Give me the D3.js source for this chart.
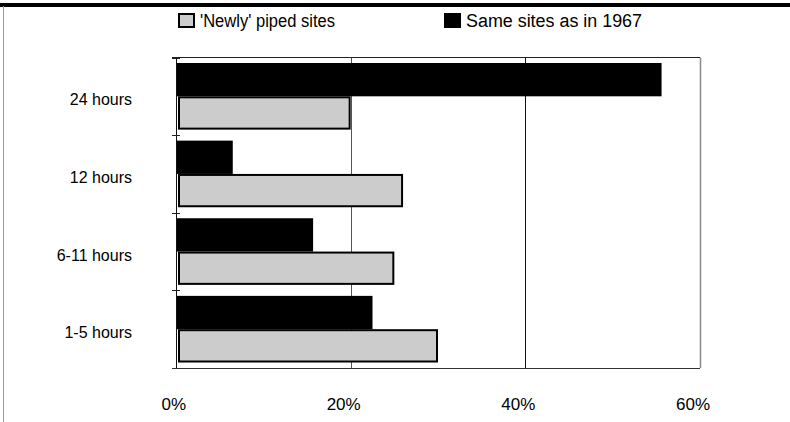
<!DOCTYPE html>
<html>
<head>
<meta charset="utf-8">
<script src="https://cdn.jsdelivr.net/npm/d3@7"></script>
<style>
  body { margin: 0; background: #fff; }
  svg { display: block; }
  .axis-label { font-family: "Liberation Sans", Arial, sans-serif; font-size: 16px; fill: #000; }
  .tick-label { font-family: "Liberation Sans", Arial, sans-serif; font-size: 17px; fill: #000; }
  .legend-label { font-family: "Liberation Sans Narrow", "Arial Narrow", "Liberation Sans", sans-serif; font-size: 18px; fill: #000; }
</style>
</head>
<body>
<div id="chart"></div>
<script>

// data
const categories = ['24 hours', '12 hours', '6-11 hours', '1-5 hours'];
const series = ['same', 'newly'];
const seriesNames = ["'Newly' piped sites", 'Same sites as in 1967'];
const sameSites = [55.6, 6.5, 15.7, 22.5];
const newlyPiped = [20, 26, 25, 30];
const xTicks = [0, 20, 40, 60];

const W = 790, H = 422;
const margin = {top: 57.5, right: 90, bottom: 54, left: 176};

const svg = d3.select('#chart').append('svg')
  .attr('width', W)
  .attr('height', H);

// frame round the whole picture
svg.append('rect')
  .attr('x', 0).attr('y', 3)
  .attr('width', W).attr('height', 4)
  .attr('fill', '#000');

svg.append('line')
  .attr('x1', 3.5).attr('x2', 3.5)
  .attr('y1', 6).attr('y2', H)
  .attr('stroke', '#999')
  .attr('stroke-width', 1);

const x = d3.scaleLinear()
  .domain([0, 60])
  .range([margin.left, W - margin.right]);

const y = d3.scaleBand()
  .domain(categories)
  .range([margin.top, H - margin.bottom]);

const inner = d3.scaleBand()
  .domain(series)
  .range([0, y.bandwidth()])
  .paddingInner(0)
  .paddingOuter(0.165);

// gridlines
svg.append('g')
  .selectAll('line')
  .data(xTicks.slice(1, -1))
  .join('line')
    .attr('x1', d => Math.round(x(d)) + 0.5)
    .attr('x2', d => Math.round(x(d)) + 0.5)
    .attr('y1', margin.top)
    .attr('y2', H - margin.bottom)
    .attr('stroke', (d, i) => i === 0 ? '#555' : '#111')
    .attr('stroke-width', 1);

// top and right border of the plot
svg.append('line')
  .attr('x1', margin.left - 4).attr('x2', x(60))
  .attr('y1', margin.top).attr('y2', margin.top)
  .attr('stroke', '#222');

svg.append('line')
  .attr('x1', Math.round(x(60)) + 0.5).attr('x2', Math.round(x(60)) + 0.5)
  .attr('y1', margin.top).attr('y2', H - margin.bottom)
  .attr('stroke', '#888')
  .attr('stroke-width', 1.5);

// bars
const rows = categories.map((c, i) => ({cat: c, same: sameSites[i], newly: newlyPiped[i]}));

const groups = svg.append('g')
  .selectAll('g')
  .data(rows)
  .join('g')
    .attr('transform', d => `translate(0,${y(d.cat)})`);

groups.append('rect')
  .attr('x', x(0))
  .attr('y', inner('same'))
  .attr('width', d => x(d.same) - x(0))
  .attr('height', inner.bandwidth())
  .attr('fill', '#000');

groups.append('rect')
  .attr('x', x(0) + 3)
  .attr('y', inner('newly') + 1)
  .attr('width', d => x(d.newly) - x(0) - 4)
  .attr('height', inner.bandwidth() - 2)
  .attr('fill', '#cccccc')
  .attr('stroke', '#000')
  .attr('stroke-width', 2);

// left axis with cross ticks
svg.append('line')
  .attr('x1', margin.left + 0.5).attr('x2', margin.left + 0.5)
  .attr('y1', margin.top).attr('y2', H - margin.bottom)
  .attr('stroke', '#111');

const bounds = categories.map(c => y(c)).concat([y.range()[1]]);
svg.append('g')
  .selectAll('line')
  .data(bounds)
  .join('line')
    .attr('x1', margin.left - 4).attr('x2', margin.left + 4)
    .attr('y1', d => Math.round(d) + 0.5)
    .attr('y2', d => Math.round(d) + 0.5)
    .attr('stroke', '#222');

// bottom axis line
svg.append('line')
  .attr('x1', margin.left - 4).attr('x2', x(60))
  .attr('y1', H - margin.bottom + 0.5).attr('y2', H - margin.bottom + 0.5)
  .attr('stroke', '#333');

// category labels
svg.append('g')
  .selectAll('text')
  .data(categories)
  .join('text')
    .attr('class', 'axis-label')
    .attr('x', 132)
    .attr('y', d => y(d) + y.bandwidth() / 2 + 9)
    .attr('text-anchor', 'end')
    .text(d => d);

// tick labels
svg.append('g')
  .selectAll('text')
  .data(xTicks)
  .join('text')
    .attr('class', 'tick-label')
    .attr('x', d => x(d) + 10)
    .attr('y', 410)
    .attr('text-anchor', 'end')
    .text(d => d + '%');

// legend (narrow face is not installed, so squeeze the text to its width)
const legend = svg.append('g');
const legendX = [178, 444];
const legendTextW = [135, 176];
const legendFill = ['#cccccc', '#000'];

legend.selectAll('rect')
  .data(seriesNames)
  .join('rect')
    .attr('x', (d, i) => legendX[i] + 1)
    .attr('y', 14)
    .attr('width', 15)
    .attr('height', 13)
    .attr('fill', (d, i) => legendFill[i])
    .attr('stroke', '#000')
    .attr('stroke-width', 2);

legend.selectAll('text')
  .data(seriesNames)
  .join('text')
    .attr('class', 'legend-label')
    .attr('x', (d, i) => legendX[i] + 22)
    .attr('y', 27)
    .attr('textLength', (d, i) => legendTextW[i])
    .attr('lengthAdjust', 'spacingAndGlyphs')
    .text(d => d);

</script>
</body>
</html>
